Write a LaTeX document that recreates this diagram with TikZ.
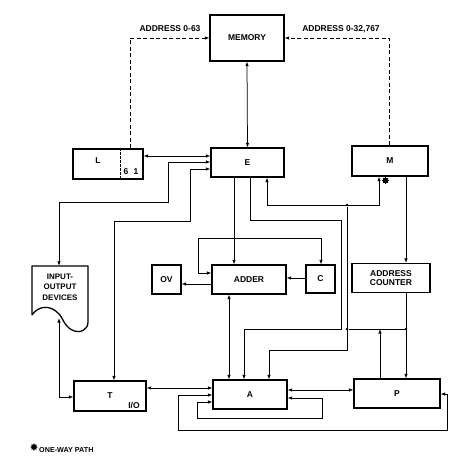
\documentclass[tikz,border=0pt]{standalone}
\usepackage{fontspec}
\setmainfont{Liberation Sans}
\usetikzlibrary{arrows.meta,shapes.geometric}
\begin{document}
\begin{tikzpicture}[x=1pt,y=-1pt,
  box/.style={draw,line width=1.3pt,rectangle,inner sep=0pt,font=\bfseries\fontsize{8.5}{9.5}\selectfont,align=center},
  txt/.style={inner sep=0pt,font=\bfseries\fontsize{8.5}{9.5}\selectfont},
  conn/.style={line width=0.75pt,{Latex[length=4.5pt,width=3.5pt]}-{Latex[length=4.5pt,width=3.5pt]}},
  one/.style={line width=0.75pt,-{Latex[length=4.5pt,width=3.5pt]}},
  dsh/.style={line width=0.75pt,dash pattern=on 4pt off 2.5pt,-{Latex[length=4.5pt,width=3.5pt]}},
  jdot/.style={circle,fill,inner sep=0pt,minimum size=2.6pt},
  onew/.style={star,star points=8,star point ratio=1.6,fill,inner sep=0pt,minimum size=7.5pt}]
\useasboundingbox (0,0) rectangle (471,463);
% boxes
\node[box,minimum width=74pt,minimum height=46pt] (MEM) at (247,38) {MEMORY};
\node[box,minimum width=70pt,minimum height=30pt] (L) at (108,164) {};
\node[txt] (Lt) at (98,161) {L};
\node[txt] (L6) at (126,172) {6};
\node[txt] (L1) at (136,172) {1};
\draw[line width=0.6pt,dash pattern=on 2.5pt off 1.5pt] (L.north -| 120,0) -- (L.south -| 120,0);
\node[box,minimum width=73pt,minimum height=29pt] (E) at (247.5,162.5) {E};
\node[box,minimum width=76pt,minimum height=30pt] (M) at (390,161) {M};
\node[box,minimum width=29pt,minimum height=29pt] (OV) at (166.5,279.5) {OV};
\node[box,minimum width=74pt,minimum height=29pt] (ADDER) at (249,279.5) {ADDER};
\node[box,minimum width=29pt,minimum height=28pt] (C) at (320.5,279) {C};
\node[box,minimum width=78pt,minimum height=29pt] (AC) at (391,278) {ADDRESS\\COUNTER};
\node[box,minimum width=72pt,minimum height=30pt] (T) at (110,396) {T};
\node[txt] (IOl) at (134,405) {I/O};
\node[box,minimum width=74pt,minimum height=29pt] (A) at (250,394.5) {A};
\node[box,minimum width=86pt,minimum height=29pt] (P) at (397,393.5) {P};
% input-output devices
\node[inner sep=0pt,minimum width=56pt,minimum height=52pt] (IO) at (60,292) {};
\draw[line width=1.3pt] (32,315) -- (32,266) -- (88,266) -- (88,322)
  .. controls (88,330) and (80,334) .. (72,330)
  .. controls (64,326) and (62,316) .. (59,314)
  .. controls (50,304) and (38,306) .. (32,315);
\node[txt,align=center,font=\bfseries\fontsize{8}{10.5}\selectfont] (IOt) at (60,287) {INPUT-\\OUTPUT\\DEVICES};
\coordinate (IObot) at (59,318);
% labels
\node[txt] (ad1) at (170,29) {ADDRESS 0-63};
\node[txt] (ad2) at (341,29) {ADDRESS 0-32,767};
% dashed address lines
\draw[dsh] (L.north -| 130,0) |- (MEM.west |- 0,38);
\draw[dsh] (M.north -| 389,0) |- (MEM.east |- 0,38);
% memory - E
\draw[conn] (MEM.south) -- (E.north);
\draw[conn] (L.east |- 0,156) -- (E.west |- 0,156);
\draw[conn] (E.west |- 0,162) -- (168,162) -- (168,202) -- (59,202) -- (IO.north -| 59,0);
\draw[conn] (E.west |- 0,169) -- (190,169) -- (190,221) -- (114,221) -- (T.north -| 114,0);
\draw[one] (E.south -| 234,0) -- (ADDER.north -| 234,0);
\draw[one] (E.south -| 250,0) -- (250,220) -- (341,220) -- (341,329) -- (244,329) -- (A.north -| 244,0);
% M connections
\draw[conn] (M.south -| 379,0) -- (379,205) -- (267,205) -- (E.south -| 267,0);
\node[onew] (ow1) at (385.5,180.5) {};
\node[jdot] (j1) at (347,205) {};
\draw[one] (j1) -- (347,350) -- (269,350) -- (A.north -| 269,0);
\node[jdot] (j2) at (347,329) {};
\node[jdot] (j3) at (406,329) {};
\draw[line width=0.75pt] (j2) -- (j3);
\draw[one] (M.south -| 406,0) -- (AC.north -| 406,0);
\draw[one] (AC.south -| 406,0) -- (P.north -| 406,0);
\draw[one] (P.north -| 380,0) -- (380,329);
% adder area
\draw[conn] (ADDER.west |- 0,273) -- (198,273) -- (198,238) -- (321,238) -- (C.north -| 321,0);
\draw[one] (C.west |- 0,278) -- (ADDER.east |- 0,278);
\draw[one] (ADDER.west |- 0,284) -- (OV.east |- 0,284);
\draw[conn] (ADDER.south -| 229,0) -- (A.north -| 229,0);
% bottom row
\draw[conn] (IObot) -- (59,397) -- (T.west |- 0,397);
\draw[conn] (T.east |- 0,388) -- (A.west |- 0,388);
\draw[conn] (A.east |- 0,390) -- (P.west |- 0,390);
\draw[conn] (P.east |- 0,394) -- (447,394) -- (447,430) -- (178,430) -- (178,395) -- (A.west |- 0,395);
\draw[conn] (A.east |- 0,398) -- (322,398) -- (322,418) -- (197,418) -- (197,402) -- (A.west |- 0,402);
% legend
\node[onew] (ow2) at (34,447) {};
\node[txt,anchor=west,font=\bfseries\fontsize{7.2}{8}\selectfont] (leg) at (39,450) {ONE-WAY PATH};
\end{tikzpicture}
\end{document}
